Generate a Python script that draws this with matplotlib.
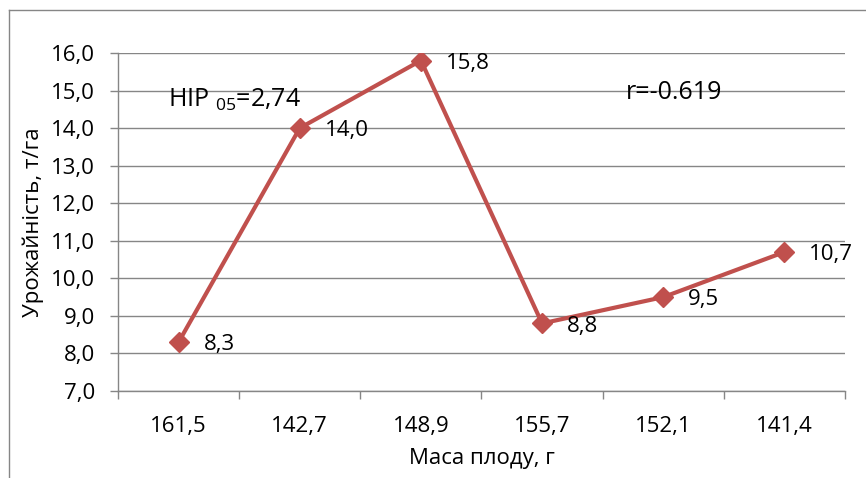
import matplotlib
matplotlib.use("Agg")
import matplotlib.pyplot as plt
from matplotlib.lines import Line2D

plt.rcParams['font.family'] = ['Open Sans', 'DejaVu Sans']
plt.rcParams['mathtext.fontset'] = 'custom'
plt.rcParams['mathtext.rm'] = 'Open Sans'

# data
fruit_mass = ["161,5", "142,7", "148,9", "155,7", "152,1", "141,4"]
yield_t = [8.3, 14.0, 15.8, 8.8, 9.5, 10.7]
y_ticks = [7, 8, 9, 10, 11, 12, 13, 14, 15, 16]

red = "#C0504D"
grey = "#868686"
fs = 16

fig = plt.figure(figsize=(8.66, 4.78), dpi=100)
ax = fig.add_axes([118 / 866, 1 - 391 / 478, (845 - 118) / 866, (391 - 53) / 478])

xs = list(range(len(yield_t)))
ax.plot(xs, yield_t, color=red, lw=3, marker="D", markersize=10.5, zorder=3)

# data labels to the right of each point
for x, v in zip(xs, yield_t):
    ax.annotate(f"{v:.1f}".replace(".", ","), (x, v), xytext=(18, -2), textcoords="offset points",
                ha="left", va="center", fontsize=fs)

ax.set_xlim(-0.5, len(xs) - 0.5)
ax.set_ylim(7, 16)
ax.set_yticks(y_ticks)
ax.set_yticklabels([f"{t:.1f}".replace(".", ",") for t in y_ticks], fontsize=fs)
ax.set_xticks(xs)
ax.set_xticklabels(fruit_mass, fontsize=fs)
ax.set_xticks([i - 0.5 for i in range(len(xs) + 1)], minor=True)
ax.tick_params(axis="x", which="major", length=0, pad=18)
ax.tick_params(axis="x", which="minor", length=5.5, color=grey, width=1)
ax.tick_params(axis="y", length=5.5, color=grey, width=1, pad=11)

ax.grid(axis="y", color=grey, lw=1)
ax.set_axisbelow(True)
for s in ["top", "right"]:
    ax.spines[s].set_visible(False)
for s in ["left", "bottom"]:
    ax.spines[s].set_color(grey)
    ax.spines[s].set_linewidth(1)

ax.set_ylabel("Урожайність, т/га", fontsize=fs, labelpad=5)
ax.set_xlabel("Маса плоду, г", fontsize=fs, labelpad=8)

ax.text(-0.09, 14.75, r"НІР $_{\mathregular{05}}$=2,74", fontsize=18, ha="left", va="center")
ax.text(3.69, 14.94, "r=-0.619", fontsize=18, ha="left", va="center")

# chart border (runs off the right and bottom edges)
fig.add_artist(Line2D([8.5 / 866, 8.5 / 866], [0, 1 - 9.5 / 478], color=grey, lw=1))
fig.add_artist(Line2D([8.5 / 866, 1], [1 - 9.5 / 478, 1 - 9.5 / 478], color=grey, lw=1))

fig.savefig("out.png", dpi=100)
